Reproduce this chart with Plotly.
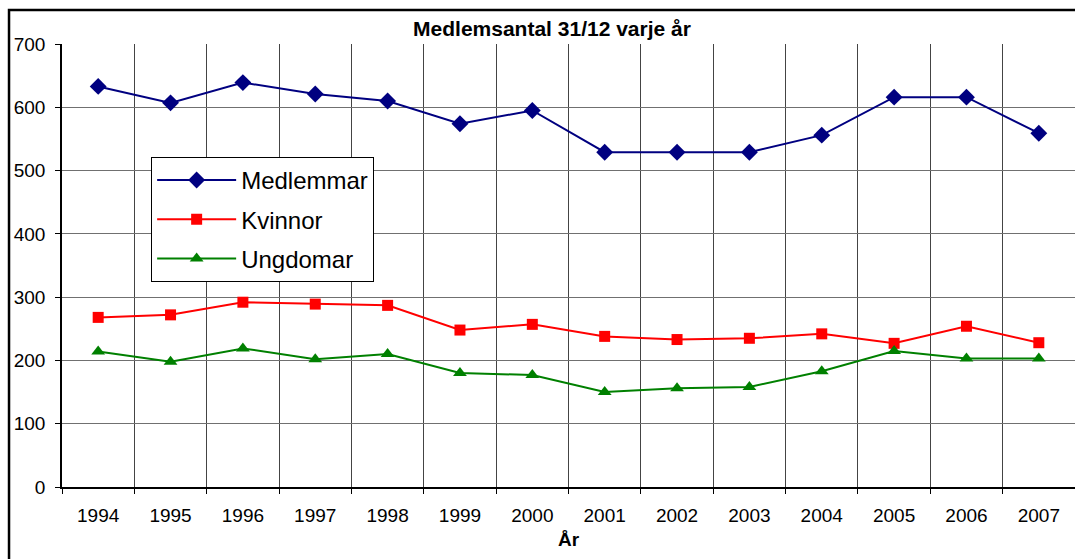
import plotly.graph_objects as go

years = ["1994", "1995", "1996", "1997", "1998", "1999", "2000",
         "2001", "2002", "2003", "2004", "2005", "2006", "2007"]
medlemmar = [633, 607, 639, 621, 610, 574, 595, 529, 529, 529, 556, 616, 616, 559]
kvinnor = [268, 272, 292, 289, 287, 248, 257, 238, 233, 235, 242, 227, 254, 228]
ungdomar = [214, 198, 219, 202, 210, 180, 177, 150, 156, 158, 183, 215, 203, 203]

series = [
    ("Medlemmar", medlemmar, "#000080", "diamond", 13),
    ("Kvinnor", kvinnor, "#FF0000", "square", 11),
    ("Ungdomar", ungdomar, "#008000", "triangle-up", 12),
]

fig = go.Figure()
for name, vals, col, sym, sz in series:
    fig.add_trace(go.Scatter(
        x=years, y=vals, name=name, mode="lines+markers",
        line=dict(color=col, width=2),
        marker=dict(symbol=sym, size=sz, color=col),
        legendgroup=name,
    ))

FONT = "Liberation Sans, Arial, sans-serif"

fig.update_layout(
    width=1075, height=559,
    margin=dict(l=62, r=0, t=44, b=72),
    paper_bgcolor="white", plot_bgcolor="white",
    font=dict(family=FONT, color="black", size=19),
    title=dict(text="<b>Medlemsantal 31/12 varje år</b>", x=552 / 1075, xanchor="center",
               y=1 - 29 / 559, yanchor="middle", font=dict(size=21, family=FONT)),
    showlegend=True,
    legend=dict(x=0.088, y=0.745, xanchor="left", yanchor="top",
                bgcolor="white", bordercolor="black", borderwidth=1,
                font=dict(size=24, family=FONT), tracegroupgap=5,
                itemwidth=79, entrywidth=235, entrywidthmode="pixels"),
    xaxis=dict(type="category", tickson="boundaries", showgrid=True,
               gridcolor="#444444", gridwidth=1, showline=True, linecolor="black",
               linewidth=1.5, ticks="outside", ticklen=5, tickcolor="black",
               tickfont=dict(size=19), range=[-0.5, 13.5], ticklabelstandoff=10,
               title=dict(text="<b>År</b>", font=dict(size=19), standoff=8)),
    yaxis=dict(range=[0, 700], dtick=100, showgrid=True, gridcolor="#707070",
               gridwidth=1, showline=True, linecolor="black", linewidth=1.5,
               ticks="outside", ticklen=5, tickcolor="black",
               tickfont=dict(size=19), zeroline=False, ticklabelstandoff=6),
    shapes=[dict(type="rect", xref="paper", yref="paper",
                 x0=-0.0523, x1=1.2, y0=-0.4, y1=1.0767,
                 line=dict(color="black", width=2.5), layer="above")],
)

fig.write_html("out.html", config={"displayModeBar": False},
               post_script="document.body.style.margin='0';document.body.style.overflow='hidden';")
